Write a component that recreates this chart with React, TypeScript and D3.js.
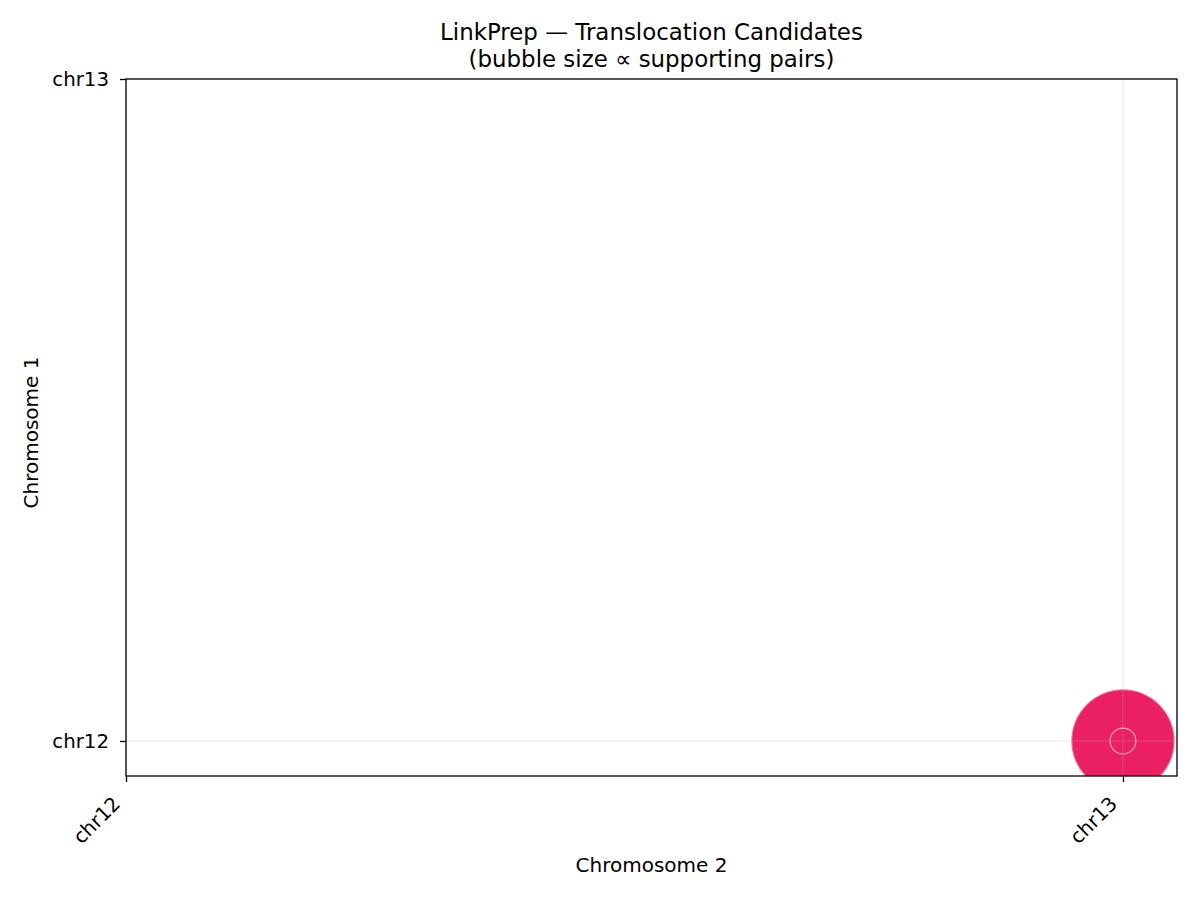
import { useEffect, useRef } from 'react';
import * as d3 from 'd3';

// Chromosome categories on each axis
const xCategories = ['chr12', 'chr13'];
const yCategories = ['chr12', 'chr13'];

// Translocation candidates (chromosome 1, chromosome 2, supporting pairs)
const candChr1 = ['chr12', 'chr12'];
const candChr2 = ['chr13', 'chr13'];
const candPairs = [16, 1];

const W = 1200;
const H = 900;
const FONT = '"DejaVu Sans", sans-serif';

export default function App() {
  const svgRef = useRef<SVGSVGElement>(null);

  useEffect(() => {
    if (!svgRef.current) return;
    const svg = d3.select(svgRef.current);
    svg.selectAll('*').remove();

    const margin = { top: 79, right: 23, bottom: 124, left: 126 };
    const innerW = W - margin.left - margin.right;
    const innerH = H - margin.top - margin.bottom;

    // category index scales, with matplotlib-like padding
    const x = d3.scaleLinear().domain([0, 1.0542]).range([0, innerW]);
    const y = d3.scaleLinear().domain([-0.0529, 1]).range([innerH, 0]);
    const xi = (c: string) => x(xCategories.indexOf(c));
    const yi = (c: string) => y(yCategories.indexOf(c));

    const r = d3.scaleSqrt().domain([0, d3.max(candPairs) ?? 1]).range([0, 51.7]);

    const g = svg.append('g').attr('transform', `translate(${margin.left},${margin.top})`);

    g.append('defs').append('clipPath').attr('id', 'plot-clip')
      .append('rect').attr('width', innerW).attr('height', innerH);

    // Bubbles
    const idx = d3.range(candPairs.length);
    g.append('g')
      .attr('clip-path', 'url(#plot-clip)')
      .selectAll('circle')
      .data(idx)
      .join('circle')
      .attr('cx', i => xi(candChr2[i]))
      .attr('cy', i => yi(candChr1[i]))
      .attr('r', i => r(candPairs[i]))
      .attr('fill', '#eb1f63')
      .attr('stroke', '#ffffff')
      .attr('stroke-opacity', i => (i === 0 ? 0.35 : 0.6))
      .attr('stroke-width', i => (i === 0 ? 2.5 : 1.2));

    // Gridlines (on top, light and translucent)
    g.append('g')
      .selectAll('line')
      .data(xCategories)
      .join('line')
      .attr('x1', d => xi(d)).attr('x2', d => xi(d))
      .attr('y1', 0).attr('y2', innerH)
      .attr('stroke', '#b0b0b0').attr('stroke-opacity', 0.3).attr('stroke-width', 1.1);
    g.append('g')
      .selectAll('line')
      .data(yCategories)
      .join('line')
      .attr('y1', d => yi(d)).attr('y2', d => yi(d))
      .attr('x1', 0).attr('x2', innerW)
      .attr('stroke', '#b0b0b0').attr('stroke-opacity', 0.3).attr('stroke-width', 1.1);

    // Frame
    g.append('rect')
      .attr('width', innerW).attr('height', innerH)
      .attr('fill', 'none').attr('stroke', '#000').attr('stroke-width', 1.3);

    // Y axis
    g.append('g')
      .call(d3.axisLeft(y).tickValues(yCategories.map((_, i) => i))
        .tickFormat(i => yCategories[+i]).tickSize(6).tickPadding(11))
      .call(ax => ax.select('.domain').remove())
      .call(ax => ax.selectAll('.tick line').attr('stroke', '#000').attr('stroke-width', 1.3))
      .call(ax => ax.selectAll('.tick text')
        .attr('fill', '#000').attr('font-size', '19.8px').attr('font-family', FONT));

    // X axis with rotated labels
    g.append('g')
      .attr('transform', `translate(0,${innerH})`)
      .call(d3.axisBottom(x).tickValues(xCategories.map((_, i) => i))
        .tickFormat(i => xCategories[+i]).tickSize(6))
      .call(ax => ax.select('.domain').remove())
      .call(ax => ax.selectAll('.tick line').attr('stroke', '#000').attr('stroke-width', 1.3))
      .call(ax => ax.selectAll('.tick text')
        .attr('fill', '#000').attr('font-size', '19.8px').attr('font-family', FONT)
        .attr('text-anchor', 'end')
        .attr('x', 0).attr('y', 0).attr('dy', 0)
        .attr('transform', 'translate(-5,29) rotate(-45)'));

    // Axis labels
    g.append('text')
      .attr('x', innerW / 2).attr('y', innerH + 96)
      .attr('text-anchor', 'middle')
      .attr('font-size', '20px').attr('font-family', FONT)
      .text('Chromosome 2');
    g.append('text')
      .attr('transform', `translate(${-126 + 38},${innerH / 2 + 5}) rotate(-90)`)
      .attr('text-anchor', 'middle')
      .attr('font-size', '20px').attr('font-family', FONT)
      .text('Chromosome 1');

    // Title
    const title = svg.append('text')
      .attr('text-anchor', 'middle')
      .attr('font-size', '22.9px').attr('font-family', FONT);
    title.append('tspan').attr('x', margin.left + innerW / 2).attr('y', 40)
      .text('LinkPrep — Translocation Candidates');
    title.append('tspan').attr('x', margin.left + innerW / 2).attr('y', 67)
      .text('(bubble size ∝ supporting pairs)');
  }, []);

  return (
    <div style={{ position: 'absolute', left: 0, top: 0 }}>
      <svg ref={svgRef} width={W} height={H} style={{ display: 'block', background: '#fff' }} />
    </div>
  );
}
